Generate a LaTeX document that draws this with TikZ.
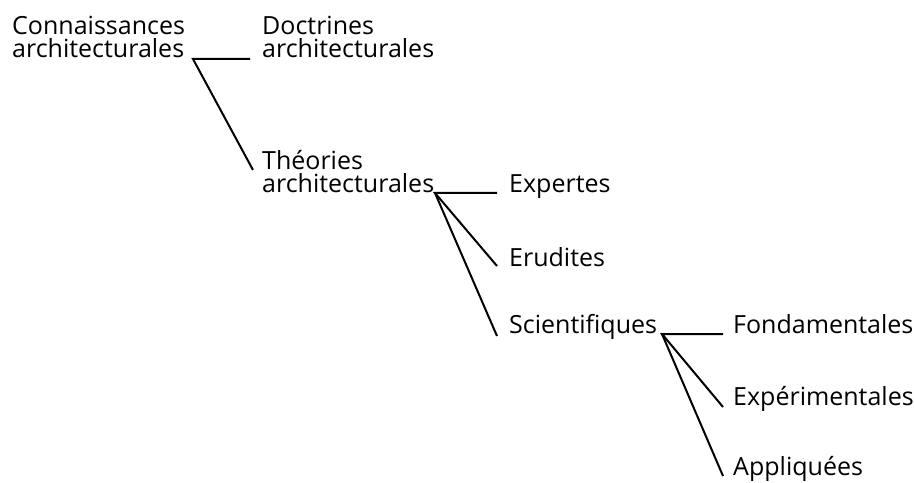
\documentclass[tikz,border=0pt]{standalone}
\usepackage{fontspec}
\setmainfont{Open Sans}
\usetikzlibrary{positioning}

\tikzset{
  label/.style={anchor=base west, inner sep=0pt, align=left,
    font=\fontsize{25bp}{23bp}\selectfont},
  branch/.style={line width=2bp}
}

\begin{document}
\begin{tikzpicture}[x=1bp,y=-1bp]
\useasboundingbox (0,0) rectangle (914,483);
\node[label] (conn) at (12,58) {Connaissances\\architecturales};
\node[label] (doct) at (262,58) {Doctrines\\architecturales};
\node[label] (theo) at (262,193) {Théories\\architecturales};
\node[label] (expt) at (509,193) {Expertes};
\node[label] (erud) at (509,267) {Erudites};
\node[label] (scie) at (509,334) {Scientifiques};
\node[label] (fond) at (733,334) {Fondamentales};
\node[label] (expe) at (733,405) {Expérimentales};
\node[label] (appl) at (733,475) {Appliquées};

\coordinate (j1) at (193,59);
\coordinate (j2) at (435,193);
\coordinate (j3) at (662,334);
\coordinate (doct-in) at (250,59);
\coordinate (theo-in) at (253,170);
\coordinate (expt-in) at (497,193);
\coordinate (erud-in) at (497,266);
\coordinate (scie-in) at (497,336);
\coordinate (fond-in) at (723,334);
\coordinate (expe-in) at (723,407);
\coordinate (appl-in) at (723,476);

\draw[branch] (doct-in) -- (j1) -- (theo-in);
\draw[branch] (expt-in) -- (j2) -- (erud-in);
\draw[branch] (j2) -- (scie-in);
\draw[branch] (fond-in) -- (j3) -- (expe-in);
\draw[branch] (j3) -- (appl-in);
\end{tikzpicture}
\end{document}
